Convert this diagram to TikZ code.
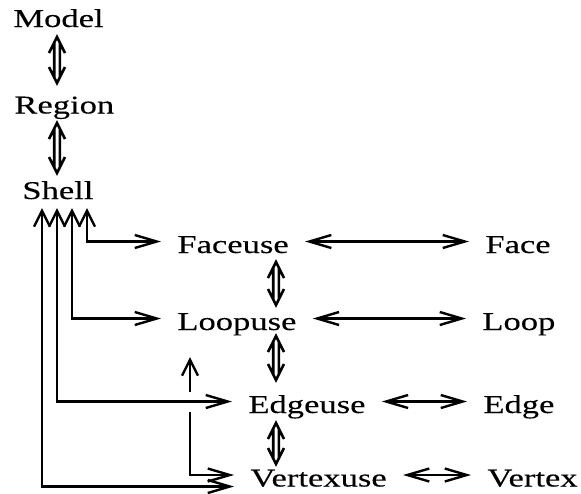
\documentclass[tikz,border=0pt]{standalone}
\usepackage{fontspec}
\setmainfont{Liberation Serif}[FakeStretch=1.35,FakeBold=0.2]
\usetikzlibrary{arrows.meta,calc}

\tikzset{
  lbl/.style={anchor=base west, inner xsep=8pt, inner ysep=0pt,
              text height=11.5pt, text depth=0pt,
              font=\fontsize{12.8pt}{15pt}\selectfont},
  link/.style={line width=1.2pt},
  htip/.tip={Straight Barb[length=11pt,width=6.5pt,line width=1.2pt]},
  vtip/.tip={Straight Barb[length=8pt,width=8pt,line width=1.2pt]},
  hlink/.style={link, htip-htip},
  % double-shafted vertical arrow with an open head at each end
  dblv/.style={line width=1.3pt, line cap=butt, line join=miter, to path={
    let \p1=(\tikztostart), \p2=(\tikztotarget) in
    ({\x1-4pt},{\y1-8pt}) -- (\x1,\y1) -- ({\x1+4pt},{\y1-8pt})
    ({\x1-1.4pt},{\y1-2.5pt}) -- ({\x1-1.4pt},{\y2+2.5pt})
    ({\x1+1.4pt},{\y1-2.5pt}) -- ({\x1+1.4pt},{\y2+2.5pt})
    ({\x1-4pt},{\y2+8pt}) -- (\x1,\y2) -- ({\x1+4pt},{\y2+8pt})
  }}
}

\begin{document}
\begin{tikzpicture}[x=0.5pt,y=-0.5pt]
\useasboundingbox (0,0) rectangle (581,493);

% entity names
\node[lbl] (model)     at (-3,27)     {Model};
\node[lbl] (region)    at (-2,113.5)  {Region};
\node[lbl] (shell)     at (6,199)     {Shell};
\node[lbl] (faceuse)   at (161,253)   {Faceuse};
\node[lbl] (loopuse)   at (161,330)   {Loopuse};
\node[lbl] (edgeuse)   at (232,413)   {Edgeuse};
\node[lbl] (vertexuse) at (234,486.5) {Vertexuse};
\node[lbl] (face)      at (469,253)   {Face};
\node[lbl] (loop)      at (466,330)   {Loop};
\node[lbl] (edge)      at (467,413)   {Edge};
\node[lbl] (vertex)    at (471,486.5) {Vertex};

% columns used by the vertical connectors
\coordinate (ax) at (57,0);
\coordinate (ux) at (276,0);
\coordinate (s1) at (42,0);
\coordinate (s2) at (57,0);
\coordinate (s3) at (72,0);
\coordinate (s4) at (87,0);
\coordinate (gx) at (190,0);

% hierarchy Model - Region - Shell
\draw[dblv] ($(model.base -| ax)+(0,10)$) to ($(region.base -| ax)+(0,-30.5)$);
\draw[dblv] ($(region.base -| ax)+(0,9.5)$) to ($(shell.base -| ax)+(0,-26)$);

% uses chain
\draw[dblv] ($(faceuse.base -| ux)+(0,9)$) to ($(loopuse.base -| ux)+(0,-25)$);
\draw[dblv] ($(loopuse.base -| ux)+(0,6)$) to ($(edgeuse.base -| ux)+(0,-33)$);
\draw[dblv] ($(edgeuse.base -| ux)+(0,10)$) to ($(vertexuse.base -| ux)+(0,-22.5)$);

% uses to their entities
\draw[hlink] (faceuse.east) -- (face.west);
\draw[hlink] (loopuse.east) -- (loop.west);
\draw[hlink] (edgeuse.east) -- (edge.west);
\draw[hlink] (vertexuse.east) -- (vertex.west);

% shell to each kind of use
\draw[link, vtip-htip] ($(shell.base -| s4)+(0,9)$) |- (faceuse.west);
\draw[link, vtip-htip] ($(shell.base -| s3)+(0,9)$) |- (loopuse.west);
\draw[link, vtip-htip] ($(shell.base -| s1)+(0,9)$) |- (vertexuse.base west);

% loopuse to vertexuse, broken where it crosses the edgeuse link
\draw[link, htip-vtip] (vertexuse.west) -| ($(loopuse.base -| gx)+(0,27)$);
\draw[white, line width=4pt] ($(edgeuse.west -| gx)+(0,-10)$) -- ($(edgeuse.west -| gx)+(0,10)$);
\draw[link, vtip-htip] ($(shell.base -| s2)+(0,9)$) |- (edgeuse.west);
\end{tikzpicture}
\end{document}
